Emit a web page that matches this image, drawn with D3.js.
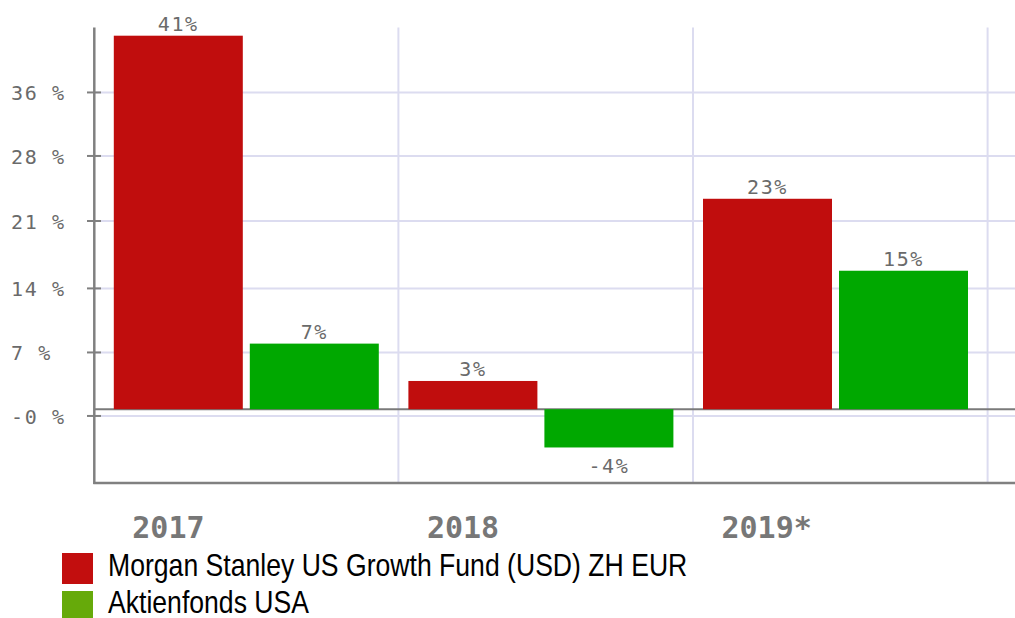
<!DOCTYPE html>
<html>
<head>
<meta charset="utf-8">
<script src="https://cdn.jsdelivr.net/npm/d3@7"></script>
<style>
  html, body { margin: 0; padding: 0; background: #ffffff; }
  svg { display: block; }
</style>
</head>
<body>
<svg id="chart" width="1015" height="618"></svg>
<script>
// ---- data ----
const categories = ["2017", "2018", "2019*"];
const seriesNames = ["Morgan Stanley US Growth Fund (USD) ZH EUR", "Aktienfonds USA"];
const fundValues = [41.0, 3.1, 23.1];
const benchmarkValues = [7.2, -4.2, 15.2];
const yTickValues = [-0.74, 6.23, 13.26, 20.66, 27.8, 34.77];
const yTickLabels = ["-0 %", "7 %", "14 %", "21 %", "28 %", "36 %"];
const barColors = ["#c00d0d", "#00a800"];
const legendColors = ["#c20e0e", "#66aa0a"];

const rows = categories.map((c, i) => ({ cat: c, vals: [fundValues[i], benchmarkValues[i]] }));

const svg = d3.select("#chart");
const W = 1015;
const axisX = 94.3, plotTop = 27.5, plotBottom = 483;

const x = d3.scaleBand().domain(categories).range([103.8, 987.6]).padding(0);
const xs = d3.scaleBand().domain([0, 1]).range([10, 275]).paddingInner(7 / 136).paddingOuter(0);
const y = d3.scaleLinear().domain([-8.1, 41.9]).range([plotBottom, plotTop]);

const monoFont = "'DejaVu Sans Mono', monospace";

// horizontal gridlines
svg.append("g").selectAll("line").data(yTickValues).join("line")
  .attr("x1", axisX).attr("x2", W)
  .attr("y1", d => y(d)).attr("y2", d => y(d))
  .attr("stroke", "#dcdcf0").attr("stroke-width", 2);

// vertical gridlines at band ends
svg.append("g").selectAll("line").data(categories).join("line")
  .attr("x1", d => x(d) + x.bandwidth()).attr("x2", d => x(d) + x.bandwidth())
  .attr("y1", plotTop).attr("y2", plotBottom)
  .attr("stroke", "#dcdcf0").attr("stroke-width", 2);

// zero line
svg.append("line")
  .attr("x1", axisX).attr("x2", W)
  .attr("y1", y(0)).attr("y2", y(0))
  .attr("stroke", "#7a7a7a").attr("stroke-width", 2);

// bars
const groups = svg.append("g").selectAll("g").data(rows).join("g")
  .attr("transform", d => `translate(${x(d.cat)},0)`);

groups.selectAll("rect").data(d => d.vals.map((v, i) => ({ v, i }))).join("rect")
  .attr("x", d => xs(d.i))
  .attr("width", xs.bandwidth())
  .attr("y", d => y(Math.max(0, d.v)))
  .attr("height", d => Math.abs(y(d.v) - y(0)))
  .attr("fill", d => barColors[d.i]);

// value labels
groups.selectAll("text").data(d => d.vals.map((v, i) => ({ v, i }))).join("text")
  .attr("x", d => xs(d.i) + xs.bandwidth() / 2)
  .attr("y", d => d.v >= 0 ? y(d.v) - 5 : y(d.v) + 26)
  .attr("text-anchor", "middle")
  .attr("font-family", monoFont)
  .attr("font-size", 20)
  .attr("letter-spacing", 1.6)
  .attr("fill", "#6a6a6a")
  .text(d => Math.round(d.v) + "%");

// left axis
svg.append("line")
  .attr("x1", axisX).attr("x2", axisX)
  .attr("y1", plotTop).attr("y2", plotBottom + 1)
  .attr("stroke", "#808080").attr("stroke-width", 2.5);

// bottom axis
svg.append("line")
  .attr("x1", axisX - 1).attr("x2", W)
  .attr("y1", plotBottom).attr("y2", plotBottom)
  .attr("stroke", "#808080").attr("stroke-width", 2.5);

// y ticks
svg.append("g").selectAll("line").data(yTickValues).join("line")
  .attr("x1", 87).attr("x2", 101)
  .attr("y1", d => y(d)).attr("y2", d => y(d))
  .attr("stroke", "#808080").attr("stroke-width", 2);

svg.append("g").selectAll("text").data(yTickValues).join("text")
  .attr("x", 11)
  .attr("y", d => y(d) + 8)
  .attr("font-family", monoFont)
  .attr("font-size", 20)
  .attr("letter-spacing", 1.6)
  .attr("fill", "#6a6a6a")
  .text((d, i) => yTickLabels[i]);

// category labels
svg.append("g").selectAll("text").data(categories).join("text")
  .attr("x", d => x(d) + 28.5)
  .attr("y", 538)
  .attr("font-family", monoFont)
  .attr("font-weight", "bold")
  .attr("font-size", 30)
  .attr("fill", "#777777")
  .text(d => d);

// legend
const legend = svg.append("g").selectAll("g").data(seriesNames).join("g");
legend.append("rect")
  .attr("x", 62).attr("y", (d, i) => 553 + i * 38)
  .attr("width", 31).attr("height", 31)
  .attr("fill", (d, i) => legendColors[i]);
legend.append("text")
  .attr("transform", (d, i) => `translate(108,${575.5 + i * 37}) scale(1,1.15)`)
  .attr("font-family", "'Liberation Sans', Arial, sans-serif")
  .attr("font-size", 26.6)
  .attr("fill", "#000")
  .text(d => d);
</script>
</body>
</html>
